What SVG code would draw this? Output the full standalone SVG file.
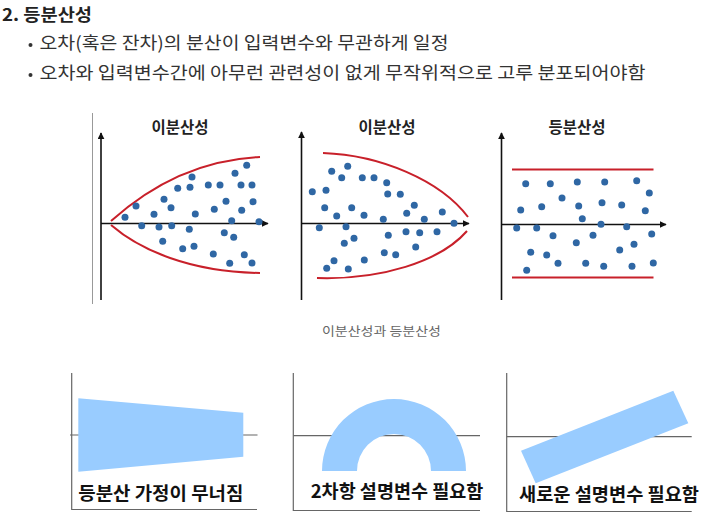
<svg xmlns="http://www.w3.org/2000/svg" width="717" height="524" viewBox="0 0 717 524">
<defs>
<marker id="arr" viewBox="0 0 10 10" refX="9" refY="5" markerWidth="7" markerHeight="7" markerUnits="userSpaceOnUse" orient="auto"><path d="M0,0 L10,5 L0,10 z" fill="#111"/></marker>
<style>
text{font-family:"Noto Sans CJK KR","Noto Sans",sans-serif;}
.h{font-size:17px;font-weight:bold;fill:#222;}
.b{font-size:17.5px;fill:#333;}
.t{font-size:15.5px;font-weight:bold;fill:#222;text-anchor:middle;}
.cap{font-size:12.5px;fill:#666;}
.lab{font-size:18px;font-weight:bold;fill:#111;}
.ax{stroke:#111;stroke-width:1.6;fill:none;marker-end:url(#arr);}
.red{stroke:#c8202a;stroke-width:2;fill:none;}
.dot{fill:#2f67a4;}
.gl{stroke:#666;stroke-width:1.2;fill:none;}
.fill{fill:#99ccff;}
</style>
</defs>
<rect width="717" height="524" fill="#fff"/>
<g id="header">
<text class="h" x="2" y="21" textLength="90" lengthAdjust="spacingAndGlyphs">2. 등분산성</text>
<circle cx="30.5" cy="45" r="2" fill="#333"/>
<text class="b" x="39.5" y="49" textLength="409" lengthAdjust="spacingAndGlyphs">오차(혹은 잔차)의 분산이 입력변수와 무관하게 일정</text>
<circle cx="30.5" cy="75" r="2" fill="#333"/>
<text class="b" x="39.5" y="79" textLength="606" lengthAdjust="spacingAndGlyphs">오차와 입력변수간에 아무런 관련성이 없게 무작위적으로 고루 분포되어야함</text>
</g>
<g id="plot1">
<line x1="92.5" y1="113" x2="92.5" y2="304" stroke="#999" stroke-width="1"/>
<text class="t" x="180" y="133">이분산성</text>
<line class="ax" x1="101" y1="300" x2="101" y2="133"/>
<line class="ax" x1="101" y1="223.5" x2="268" y2="223.5"/>
<path class="red" d="M111,221 C140,195 190,160 260,157"/>
<path class="red" d="M111,225 C140,250 190,272 260,273"/>
<g class="dot">
<circle cx="125" cy="217.3" r="3.5"/><circle cx="136" cy="206" r="3.5"/><circle cx="141.7" cy="225.7" r="3.5"/><circle cx="154" cy="214.3" r="3.5"/><circle cx="159" cy="227" r="3.5"/><circle cx="164" cy="199.3" r="3.5"/><circle cx="162.7" cy="241.3" r="3.5"/><circle cx="171" cy="207.7" r="3.5"/><circle cx="171.7" cy="225.7" r="3.5"/><circle cx="177.7" cy="188.3" r="3.5"/><circle cx="182.7" cy="248.7" r="3.5"/><circle cx="190" cy="187.3" r="3.5"/><circle cx="192" cy="177" r="3.5"/><circle cx="195.3" cy="214" r="3.5"/><circle cx="189.3" cy="229.3" r="3.5"/><circle cx="194" cy="246.3" r="3.5"/><circle cx="208.3" cy="185" r="3.5"/><circle cx="220" cy="185" r="3.5"/><circle cx="214.3" cy="209.3" r="3.5"/><circle cx="213.3" cy="254" r="3.5"/><circle cx="226" cy="201.3" r="3.5"/><circle cx="231.7" cy="220.7" r="3.5"/><circle cx="224.3" cy="232.7" r="3.5"/><circle cx="233.7" cy="237.3" r="3.5"/><circle cx="229.7" cy="263.3" r="3.5"/><circle cx="235" cy="173.3" r="3.5"/><circle cx="246.7" cy="165.3" r="3.5"/><circle cx="241" cy="185" r="3.5"/><circle cx="252" cy="185" r="3.5"/><circle cx="241.7" cy="210.3" r="3.5"/><circle cx="253" cy="201.7" r="3.5"/><circle cx="259" cy="221.7" r="3.5"/><circle cx="244.3" cy="254.7" r="3.5"/><circle cx="252" cy="263" r="3.5"/>
</g>
</g>
<g id="plot2">
<text class="t" x="387" y="133">이분산성</text>
<line class="ax" x1="301.5" y1="300" x2="301.5" y2="132"/>
<line class="ax" x1="301.5" y1="223.5" x2="469" y2="223.5"/>
<path class="red" d="M323,153 C380,155 440,180 468,217"/>
<path class="red" d="M317,278 C380,280 440,262 467,231"/>
<g class="dot">
<circle cx="312.3" cy="191.7" r="3.5"/><circle cx="326" cy="190.3" r="3.5"/><circle cx="331.7" cy="171.3" r="3.5"/><circle cx="347.7" cy="166.3" r="3.5"/><circle cx="341.7" cy="177.7" r="3.5"/><circle cx="362.3" cy="177.7" r="3.5"/><circle cx="374" cy="177.7" r="3.5"/><circle cx="386.7" cy="182.7" r="3.5"/><circle cx="387.7" cy="194" r="3.5"/><circle cx="400.3" cy="194.3" r="3.5"/><circle cx="324.7" cy="207.7" r="3.5"/><circle cx="336.7" cy="216" r="3.5"/><circle cx="351.7" cy="207.7" r="3.5"/><circle cx="364" cy="215.3" r="3.5"/><circle cx="383.3" cy="219.3" r="3.5"/><circle cx="406.7" cy="213.3" r="3.5"/><circle cx="414.3" cy="205.3" r="3.5"/><circle cx="424.3" cy="219.3" r="3.5"/><circle cx="442.3" cy="212" r="3.5"/><circle cx="454" cy="223.3" r="3.5"/><circle cx="319.3" cy="227.7" r="3.5"/><circle cx="346" cy="226.7" r="3.5"/><circle cx="354" cy="238.3" r="3.5"/><circle cx="344.3" cy="243.3" r="3.5"/><circle cx="388.3" cy="235.3" r="3.5"/><circle cx="406" cy="231.7" r="3.5"/><circle cx="419.7" cy="232.7" r="3.5"/><circle cx="437" cy="231.7" r="3.5"/><circle cx="415.7" cy="247" r="3.5"/><circle cx="384.3" cy="252.7" r="3.5"/><circle cx="395.7" cy="254.7" r="3.5"/><circle cx="364.3" cy="260" r="3.5"/><circle cx="334" cy="260.7" r="3.5"/><circle cx="326.7" cy="268.3" r="3.5"/><circle cx="348.3" cy="269" r="3.5"/>
</g>
</g>
<g id="plot3">
<text class="t" x="577" y="133">등분산성</text>
<line class="ax" x1="501.5" y1="300" x2="501.5" y2="133"/>
<line class="ax" x1="501.5" y1="224.5" x2="666" y2="224.5"/>
<line class="red" x1="512" y1="169.5" x2="653.5" y2="169.5"/>
<line class="red" x1="512" y1="277.5" x2="653.5" y2="277.5"/>
<g class="dot">
<circle cx="525.7" cy="183.7" r="3.5"/><circle cx="550.3" cy="183.7" r="3.5"/><circle cx="577.3" cy="182" r="3.5"/><circle cx="604.7" cy="182" r="3.5"/><circle cx="636.7" cy="180.7" r="3.5"/><circle cx="649.3" cy="193" r="3.5"/><circle cx="562" cy="198" r="3.5"/><circle cx="520.7" cy="210" r="3.5"/><circle cx="541.7" cy="206.7" r="3.5"/><circle cx="578.7" cy="206" r="3.5"/><circle cx="602" cy="202.7" r="3.5"/><circle cx="621.7" cy="205" r="3.5"/><circle cx="645.3" cy="210.7" r="3.5"/><circle cx="582.3" cy="218.7" r="3.5"/><circle cx="601" cy="224.3" r="3.5"/><circle cx="626.7" cy="226.7" r="3.5"/><circle cx="516.7" cy="228" r="3.5"/><circle cx="536.7" cy="228" r="3.5"/><circle cx="553" cy="235.7" r="3.5"/><circle cx="593" cy="235.3" r="3.5"/><circle cx="576.3" cy="242.7" r="3.5"/><circle cx="651.7" cy="234" r="3.5"/><circle cx="634" cy="244.3" r="3.5"/><circle cx="619.7" cy="250" r="3.5"/><circle cx="530.7" cy="252.3" r="3.5"/><circle cx="546.7" cy="255" r="3.5"/><circle cx="558" cy="263.3" r="3.5"/><circle cx="585.7" cy="263.3" r="3.5"/><circle cx="603.7" cy="266.3" r="3.5"/><circle cx="632" cy="266.3" r="3.5"/><circle cx="653.3" cy="263" r="3.5"/><circle cx="526.7" cy="270.3" r="3.5"/>
</g>
</g>
<g id="caption">
<text class="cap" x="322" y="336" textLength="119" lengthAdjust="spacingAndGlyphs">이분산성과 등분산성</text>
</g>
<g id="panel1">
<path class="gl" d="M71.7,373 V509.5 H257"/>
<line class="gl" x1="70" y1="435" x2="257.5" y2="435"/>
<polygon class="fill" points="78.3,398.3 243.3,412.7 243.3,456.7 78.3,471.7"/>
<text class="lab" x="78.3" y="500" textLength="165" lengthAdjust="spacingAndGlyphs">등분산 가정이 무너짐</text>
</g>
<g id="panel2">
<path class="gl" d="M293.3,373 V510.5 H480"/>
<line class="gl" x1="293.3" y1="435.7" x2="480" y2="435.7"/>
<path class="fill" d="M322,471 A72,72 0 0 1 466,471 L431,471 A37,37 0 0 0 357,471 Z"/>
<text class="lab" x="310.7" y="498" textLength="172.6" lengthAdjust="spacingAndGlyphs">2차항 설명변수 필요함</text>
</g>
<g id="panel3">
<path class="gl" d="M506.7,373 V511.5 H691.7"/>
<line class="gl" x1="506.7" y1="436.7" x2="691.7" y2="436.7"/>
<polygon class="fill" points="521,450.7 673.3,390.7 688.3,423.3 535.7,483.3"/>
<text class="lab" x="519" y="500.5" textLength="180" lengthAdjust="spacingAndGlyphs">새로운 설명변수 필요함</text>
</g>
</svg>
